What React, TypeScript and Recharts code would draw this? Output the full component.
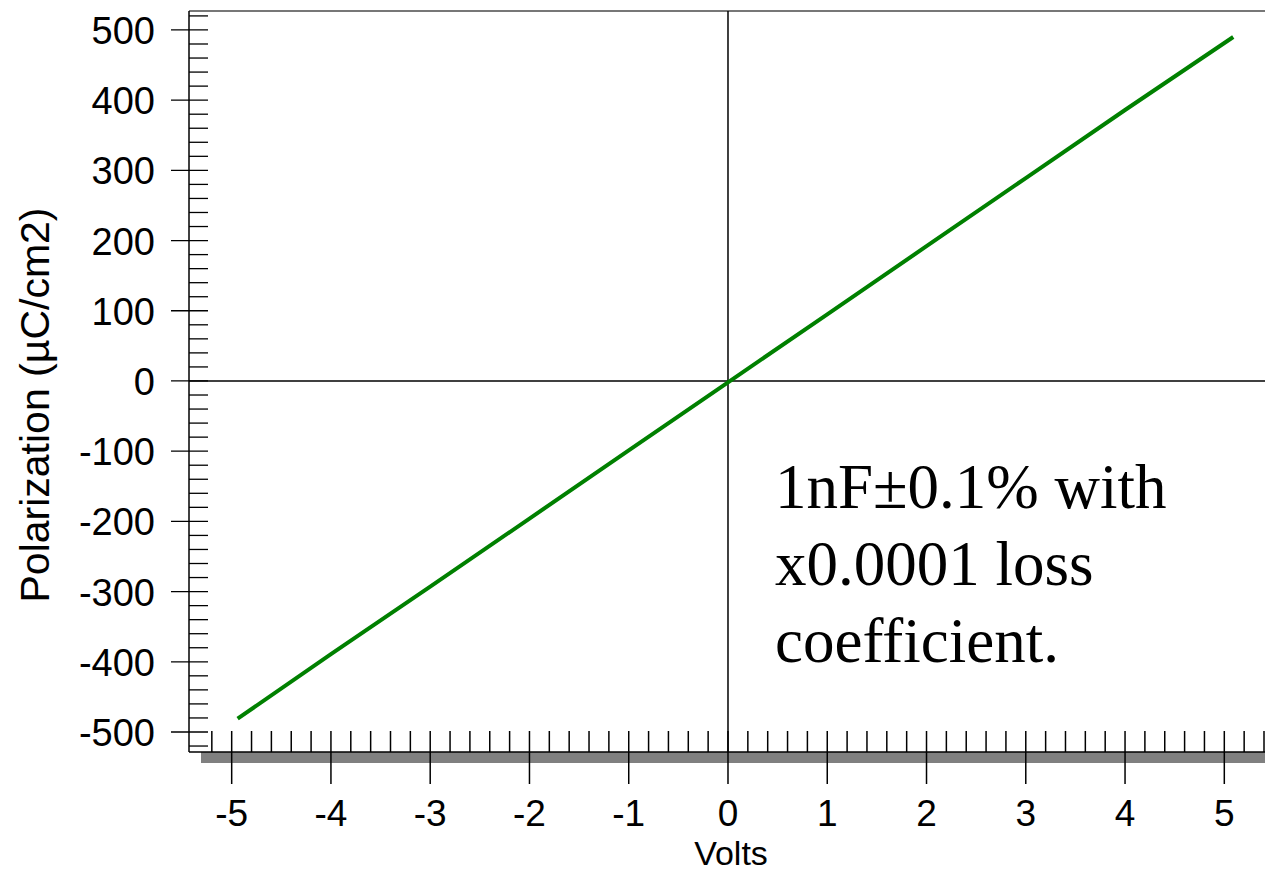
import React from 'react';
import { LineChart, Line, XAxis, YAxis, ReferenceLine } from 'recharts';

// Measured loop data (Volts vs Polarization)
const volts = [-4.94, -4, -3, -2, -1, 0, 1, 2, 3, 4, 5.09];
const polarization = [-481, -389, -293, -196, -99, -2, 95, 192, 289, 386, 490];

const xTicks = [
  -5.2, -5, -4.8, -4.6, -4.4, -4.2, -4, -3.8, -3.6, -3.4, -3.2, -3, -2.8, -2.6, -2.4, -2.2,
  -2, -1.8, -1.6, -1.4, -1.2, -1, -0.8, -0.6, -0.4, -0.2, 0, 0.2, 0.4, 0.6, 0.8, 1, 1.2, 1.4,
  1.6, 1.8, 2, 2.2, 2.4, 2.6, 2.8, 3, 3.2, 3.4, 3.6, 3.8, 4, 4.2, 4.4, 4.6, 4.8, 5, 5.2, 5.4,
];
const yTicks = [
  -520, -500, -480, -460, -440, -420, -400, -380, -360, -340, -320, -300, -280, -260, -240,
  -220, -200, -180, -160, -140, -120, -100, -80, -60, -40, -20, 0, 20, 40, 60, 80, 100, 120,
  140, 160, 180, 200, 220, 240, 260, 280, 300, 320, 340, 360, 380, 400, 420, 440, 460, 480,
  500, 520,
];
const xDomain = [-5.43, 5.41];
const yDomain = [-528.5, 527];

const xLabel = 'Volts';
const yLabel = 'Polarization  (\u00b5C/cm2)';
const noteLines = ['1nF\u00b10.1% with', 'x0.0001 loss', 'coefficient.'];

const data = volts.map((v, i) => ({ v, p: polarization[i] }));

const SANS = '"Liberation Sans", Arial, sans-serif';
const SERIF = '"Liberation Serif", "Times New Roman", serif';

const isMult = (v: number, m: number) => Math.abs(v / m - Math.round(v / m)) < 1e-6;

const XTick = (props: any) => {
  const { x, y, payload } = props;
  const v = payload.value;
  const major = isMult(v, 1);
  return (
    <g>
      <line x1={x} x2={x} y1={y - 21} y2={major ? y + 32 : y} stroke="#000" strokeWidth={1.5} />
      {major && (
        <text x={x} y={y + 74} textAnchor="middle" fontFamily={SANS} fontSize={37} fill="#000">
          {Math.round(v)}
        </text>
      )}
    </g>
  );
};

const YTick = (props: any) => {
  const { x, y, payload } = props;
  const v = payload.value;
  const major = isMult(v, 100);
  return (
    <g>
      <line x1={major ? x - 18 : x} x2={x + 19} y1={y} y2={y} stroke="#000" strokeWidth={1.3} />
      {major && (
        <text x={x - 34} y={y + 14} textAnchor="end" fontFamily={SANS} fontSize={38} fill="#000">
          {Math.round(v)}
        </text>
      )}
    </g>
  );
};

export default function App() {
  return (
    <div style={{ position: 'relative', width: 1265, height: 873, background: '#fff', overflow: 'hidden' }}>
      <style>{'body{margin:0;overflow:hidden;}'}</style>
      <svg width={1265} height={873} style={{ position: 'absolute', left: 0, top: 0 }}>
        <rect x={201} y={752} width={1064} height={11} fill="#808080" />
        <line x1={189} x2={1265} y1={11} y2={11} stroke="#777" strokeWidth={2} />
      </svg>
      <div style={{ position: 'absolute', left: 0, top: 0 }}>
        <LineChart width={1265} height={873} data={data} margin={{ top: 11, right: 0, bottom: 0, left: 0 }}>
          <XAxis
            dataKey="v"
            type="number"
            domain={xDomain}
            ticks={xTicks}
            interval={0}
            height={121}
            tickSize={0}
            tickMargin={0}
            tick={<XTick />}
            axisLine={{ stroke: '#000', strokeWidth: 1.5 }}
            allowDataOverflow
          />
          <YAxis
            dataKey="p"
            type="number"
            domain={yDomain}
            ticks={yTicks}
            interval={0}
            width={189}
            tickSize={0}
            tickMargin={0}
            tick={<YTick />}
            axisLine={{ stroke: '#000', strokeWidth: 1.5 }}
            allowDataOverflow
          />
          <ReferenceLine x={0} stroke="#000" strokeWidth={1.5} />
          <ReferenceLine y={0} stroke="#000" strokeWidth={1.5} />
          <Line
            type="linear"
            dataKey="p"
            stroke="#008000"
            strokeWidth={4}
            dot={false}
            isAnimationActive={false}
          />
        </LineChart>
      </div>
      <svg width={1265} height={873} style={{ position: 'absolute', left: 0, top: 0, pointerEvents: 'none' }}>
        <text x={731} y={865} textAnchor="middle" fontFamily={SANS} fontSize={34} fill="#000">
          {xLabel}
        </text>
        <text
          x={0}
          y={0}
          transform="translate(49,405) rotate(-90)"
          textAnchor="middle"
          fontFamily={SANS}
          fontSize={41}
          fill="#000"
        >
          {yLabel}
        </text>
        {noteLines.map((t, i) => (
          <text key={i} x={775} y={508 + i * 77} fontFamily={SERIF} fontSize={63} fill="#000">
            {t}
          </text>
        ))}
      </svg>
    </div>
  );
}
